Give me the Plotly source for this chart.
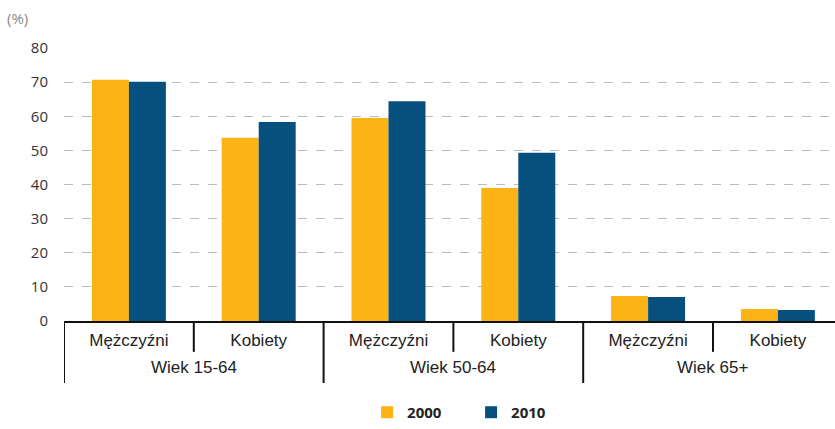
import plotly.graph_objects as go

# Employment rate by age group and sex, 2000 vs 2010 (%)
groups = ["Wiek 15-64", "Wiek 50-64", "Wiek 65+"]
subgroups = ["Mężczyźni", "Kobiety"]
values_2000 = [70.7, 53.7, 59.5, 39.0, 7.3, 3.5]
values_2010 = [70.1, 58.3, 64.4, 49.3, 7.0, 3.2]
y_ticks = [0, 10, 20, 30, 40, 50, 60, 70, 80]

YELLOW = "#FBB316"
BLUE = "#07507E"

x_pos = list(range(len(groups) * len(subgroups)))
x_text = [s for _ in groups for s in subgroups]

fig = go.Figure()
fig.add_trace(go.Bar(x=x_pos, y=values_2000, name="2000", marker_color=YELLOW,
                     marker_line_width=0))
fig.add_trace(go.Bar(x=x_pos, y=values_2010, name="2010", marker_color=BLUE,
                     marker_line_width=0))

# category dividers below the axis: short between sexes, long between age groups
shapes = []
n_sub = len(subgroups)
for i in range(len(x_pos)):
    long_line = i % n_sub == 0
    shapes.append(dict(type="line", xref="x", yref="paper",
                       x0=i - 0.5, x1=i - 0.5, y0=0,
                       y1=-0.227 if long_line else -0.113,
                       line=dict(color="#111111", width=2)))

annotations = []
for g, name in enumerate(groups):
    center = g * n_sub + (n_sub - 1) / 2
    annotations.append(dict(x=center, y=-0.172, xref="x", yref="paper",
                            text=name, showarrow=False, yanchor="middle",
                            font=dict(family="Liberation Sans, Arial", size=17,
                                      color="#222222")))
annotations.append(dict(x=-0.076, y=1.11, xref="paper", yref="paper",
                        text="(%)", showarrow=False, xanchor="left",
                        yanchor="middle",
                        font=dict(family="Open Sans", size=15, color="#888888")))

fig.update_layout(
    width=835, height=429,
    margin=dict(l=64, r=0, t=48, b=108),
    paper_bgcolor="white", plot_bgcolor="white",
    barmode="group", bargap=0.43, bargroupgap=0,
    shapes=shapes, annotations=annotations,
    legend=dict(orientation="h", x=0.528, xanchor="center", y=-0.335,
                yanchor="middle",
                font=dict(family="Open Sans", size=15, color="#222222"),
                itemwidth=30, entrywidth=59),
    showlegend=True,
)
fig.update_xaxes(
    range=[-0.5, 5.44], tickmode="array", tickvals=x_pos, ticktext=x_text,
    showline=True, linecolor="#111111", linewidth=2, showgrid=False,
    ticks="", tickfont=dict(family="Liberation Sans, Arial", size=17,
                            color="#222222"),
    ticklabelstandoff=3, zeroline=False,
)
fig.update_yaxes(
    range=[0, 80], tickmode="array", tickvals=y_ticks,
    showgrid=True, gridcolor="#BBBBBB", griddash="dash", gridwidth=1,
    zeroline=False, showline=False, ticks="",
    tickfont=dict(family="Open Sans", size=15, color="#333333"),
    ticklabelstandoff=15,
)

# bold legend labels
fig.for_each_trace(lambda t: t.update(name=f"<b>{t.name}</b>"))

fig.write_html("out.html")
